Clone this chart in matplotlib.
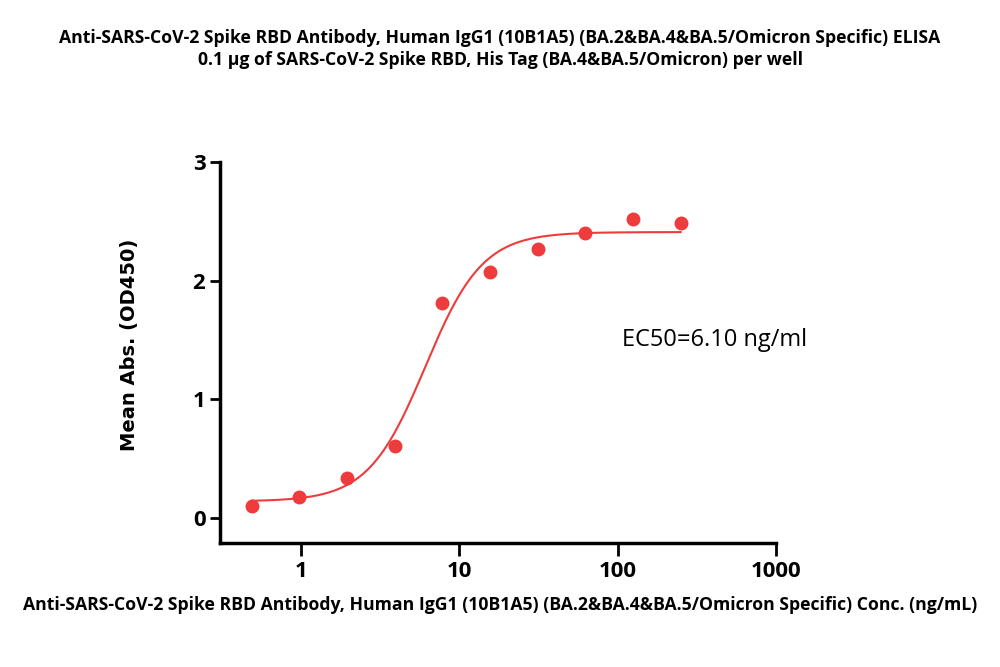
import numpy as np
import matplotlib
matplotlib.use('Agg')
import matplotlib.pyplot as plt

plt.rcParams['font.family'] = ['Open Sans', 'DejaVu Sans']

# 数据
conc = [0.488, 0.977, 1.95, 3.91, 7.81, 15.6, 31.25, 62.5, 125, 250]
od450 = [0.10, 0.18, 0.34, 0.61, 1.81, 2.07, 2.27, 2.40, 2.52, 2.49]

# 4PL 拟合参数
bottom, top, ec50, hill = 0.14, 2.41, 6.10, 2.4

title1 = 'Anti-SARS-CoV-2 Spike RBD Antibody, Human IgG1 (10B1A5) (BA.2&BA.4&BA.5/Omicron Specific) ELISA'
title2 = '0.1 \u03bcg of SARS-CoV-2 Spike RBD, His Tag (BA.4&BA.5/Omicron) per well'
xlabel = 'Anti-SARS-CoV-2 Spike RBD Antibody, Human IgG1 (10B1A5) (BA.2&BA.4&BA.5/Omicron Specific) Conc. (ng/mL)'
ylabel = 'Mean Abs. (OD450)'
xticks = [1, 10, 100, 1000]
xticklabels = ['1', '10', '100', '1000']
yticks = [0, 1, 2, 3]

red = '#ee3b3b'

fig = plt.figure(figsize=(10, 6.67), dpi=100)
ax = fig.add_axes([0.22, 0.186, 0.556, 0.571])

xfit = np.logspace(np.log10(conc[0]), np.log10(conc[-1]), 300)
yfit = bottom + (top - bottom) / (1 + (ec50 / xfit) ** hill)
ax.plot(xfit, yfit, color=red, lw=1.5, zorder=2)
ax.plot(conc, od450, 'o', color=red, ms=9, zorder=3)

ax.set_xscale('log')
ax.set_xlim(10 ** -0.511, 1000)
ax.set_ylim(-0.21, 3)
ax.set_xticks(xticks)
ax.set_xticklabels(xticklabels)
ax.minorticks_off()
ax.set_yticks(yticks)
ax.tick_params(axis='both', width=2, length=9, labelsize=16)
ax.tick_params(axis='x', pad=4)
ax.tick_params(axis='y', length=7)
for lab in ax.get_xticklabels() + ax.get_yticklabels():
    lab.set_fontweight('bold')

for s in ['top', 'right']:
    ax.spines[s].set_visible(False)
for s in ['left', 'bottom']:
    ax.spines[s].set_linewidth(2.5)

fig.text(0.622, 0.49, 'EC50=6.10 ng/ml', fontsize=17, va='center')

fig.text(0.5, 0.943, title1, ha='center', va='center', fontsize=12.7, fontweight='bold')
fig.text(0.5, 0.91, title2, ha='center', va='center', fontsize=12.7, fontweight='bold')
fig.text(0.5, 0.093, xlabel, ha='center', va='center', fontsize=12.7, fontweight='bold')
fig.text(0.13, 0.483, ylabel, ha='center', va='center', rotation=90, fontsize=14,
         fontweight='bold', family='DejaVu Sans')

fig.savefig('out.png', dpi=100)
